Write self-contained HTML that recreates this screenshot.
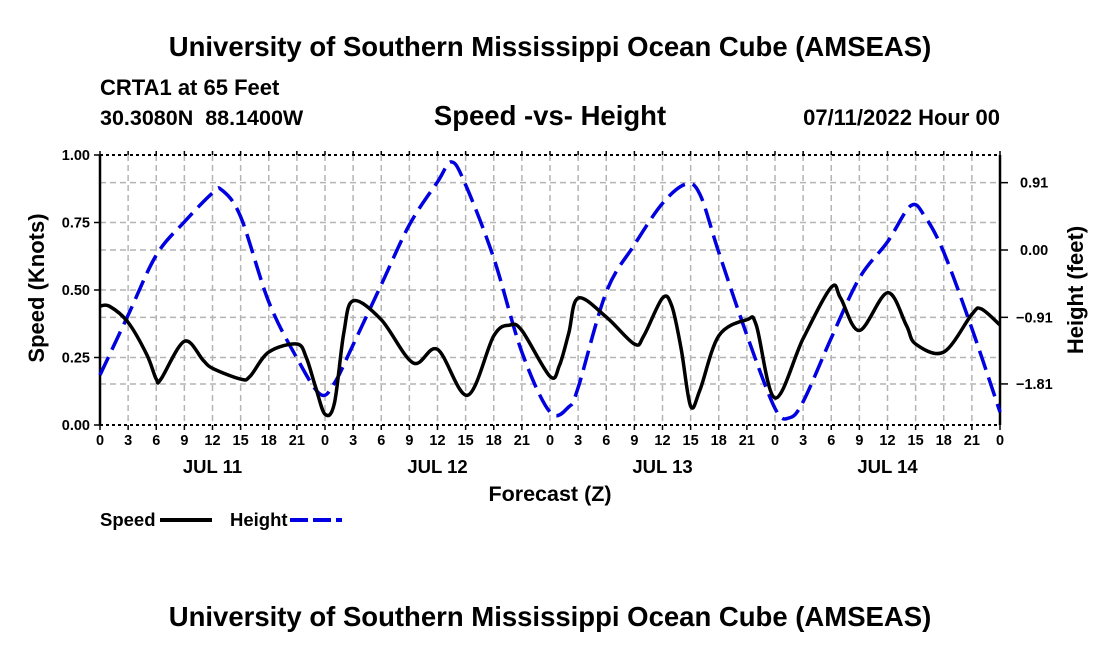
<!DOCTYPE html>
<html><head><meta charset="utf-8"><style>
body{margin:0;background:#fff;font-family:"Liberation Sans",sans-serif}
svg text{font-family:"Liberation Sans",sans-serif;font-weight:bold}
</style></head><body>
<svg id="chart" width="1100" height="650" xmlns="http://www.w3.org/2000/svg">
<rect width="1100" height="650" fill="#fff"/>
<text x="550" y="56" font-size="27.5" text-anchor="middle">University of Southern Mississippi Ocean Cube (AMSEAS)</text>
<text x="100" y="95" font-size="22">CRTA1 at 65 Feet</text>
<text x="100" y="125" font-size="21.5" xml:space="preserve">30.3080N  88.1400W</text>
<text x="550" y="125" font-size="27.5" text-anchor="middle">Speed -vs- Height</text>
<text x="1000" y="125" font-size="22" text-anchor="end">07/11/2022 Hour 00</text>
<g id="grid"></g><g id="axes"></g><g id="series"></g>
<text x="550" y="501" font-size="21.5" text-anchor="middle">Forecast (Z)</text>
<text transform="translate(44,288) rotate(-90)" font-size="22" text-anchor="middle">Speed (Knots)</text>
<text transform="translate(1083,290) rotate(-90)" font-size="22" text-anchor="middle">Height (feet)</text>
<g>
<text x="100" y="526" font-size="18.5">Speed</text>
<line x1="160" y1="520" x2="212" y2="520" stroke="#000" stroke-width="4"/>
<text x="230" y="526" font-size="18.5">Height</text>
<line x1="290" y1="520" x2="342" y2="520" stroke="#0000e0" stroke-width="4" stroke-dasharray="18 5"/>
</g>
<text x="550" y="626" font-size="27.5" text-anchor="middle">University of Southern Mississippi Ocean Cube (AMSEAS)</text>
</svg>
<script>
const speedHours=[0,1,3,5,6,6.5,9,11,12,15,16,18,21,22,23,24,25,26,27,30,33.4,36,39.2,42,43.7,45,48,49,50,51,54,57,58,60,61,62,63,64,66,69,70,72,75,78,79,81,84,86,87,90,93,94,96];
const speedValues=[0.44,0.44,0.38,0.26,0.17,0.17,0.31,0.24,0.21,0.17,0.18,0.27,0.30,0.25,0.14,0.04,0.08,0.34,0.46,0.39,0.23,0.28,0.11,0.33,0.37,0.35,0.18,0.22,0.34,0.47,0.40,0.30,0.33,0.47,0.44,0.28,0.07,0.13,0.33,0.39,0.37,0.10,0.32,0.51,0.47,0.35,0.49,0.37,0.30,0.27,0.41,0.43,0.37];
const heightHours=[0,3,6,9,12,13,15,18,21,23.5,25,27,30,33,36,37.5,39,42,45,48,50,51,54,57,60,62.5,64,66,69,72,73.5,75,78,81,84,86.5,88,90,93,96];
const heightValues=[-1.69,-0.88,-0.07,0.38,0.77,0.81,0.45,-0.70,-1.46,-1.95,-1.80,-1.28,-0.47,0.34,0.92,1.19,0.88,-0.11,-1.38,-2.19,-2.12,-1.86,-0.57,0.07,0.63,0.89,0.75,-0.03,-1.15,-2.14,-2.27,-2.05,-1.19,-0.38,0.11,0.60,0.45,-0.03,-1.06,-2.19];
const speedTicks=[0,0.25,0.5,0.75,1.0];
const heightTicks=[0.91,0.00,-0.91,-1.81];
const hourTicks=[0,3,6,9,12,15,18,21,24,27,30,33,36,39,42,45,48,51,54,57,60,63,66,69,72,75,78,81,84,87,90,93,96];
const dayLabels=["JUL 11","JUL 12","JUL 13","JUL 14"];
const X0=100,X1=1000,Y0=425,Y1=155;
const xs=h=>X0+h*(X1-X0)/96;
const ys=v=>Y0-v*(Y0-Y1);
const yh=v=>250-v*74;
const NS="http://www.w3.org/2000/svg";
function mk(t,a,p){const e=document.createElementNS(NS,t);for(const k in a)e.setAttribute(k,a[k]);p.appendChild(e);return e;}
const grid=document.getElementById('grid'),axes=document.getElementById('axes'),ser=document.getElementById('series');
hourTicks.forEach(h=>{if(h>0&&h<96){const l=mk('line',{x1:xs(h),x2:xs(h),y1:Y1,y2:Y0,stroke:'#b4b4b4','stroke-width':1.5,'stroke-dasharray':'6 4'},grid);

}});
const hy=speedTicks.map(ys).concat(heightTicks.map(yh));
hy.forEach(y=>{if(y>Y1+1&&y<Y0-1){const l=mk('line',{x1:X0,x2:X1,y1:y,y2:y,stroke:'#b4b4b4','stroke-width':1.5,'stroke-dasharray':'6 4'},grid);

}});
[[X0,Y1,X1,Y1,'top-axis'],[X0,Y0,X1,Y0,'bottom-axis']].forEach(a=>{const l=mk('line',{x1:a[0],y1:a[1],x2:a[2],y2:a[3],stroke:'#000','stroke-width':2,'stroke-dasharray':'3 3'},axes);

});
const la=mk('line',{x1:X0,y1:Y1,x2:X0,y2:Y0,stroke:'#000','stroke-width':2.5},axes);


const ra=mk('line',{x1:X1,y1:Y1,x2:X1,y2:Y0,stroke:'#000','stroke-width':2.5},axes);


hourTicks.forEach(h=>{mk('line',{x1:xs(h),x2:xs(h),y1:Y0,y2:Y0+5,stroke:'#000','stroke-width':1.5},axes);
mk('line',{x1:xs(h),x2:xs(h),y1:Y1,y2:Y1-4,stroke:'#000','stroke-width':1.5},axes);
const t=mk('text',{x:xs(h),y:Y0+20,'font-size':14.5,'text-anchor':'middle'},axes);t.textContent=(h%24);

});
dayLabels.forEach((d,i)=>{const t=mk('text',{x:xs(i*24+12),y:Y0+48,'font-size':18.5,'text-anchor':'middle'},axes);t.textContent=d;

});
speedTicks.forEach(v=>{mk('line',{x1:X0-6,x2:X0,y1:ys(v),y2:ys(v),stroke:'#000','stroke-width':1.5},axes);
const t=mk('text',{x:X0-10,y:ys(v)+5,'font-size':14.5,'text-anchor':'end'},axes);t.textContent=v.toFixed(2);

});
heightTicks.forEach(v=>{mk('line',{x1:X1,x2:X1+8,y1:yh(v),y2:yh(v),stroke:'#000','stroke-width':1.5},axes);
const t=mk('text',{x:v<0?X1+16:X1+20,y:yh(v)+5,'font-size':14.5},axes);t.textContent=(v<0?'\u2212':'')+Math.abs(v).toFixed(2);

});
function path(hs,vs,fy){const p=hs.map((h,i)=>[xs(h),fy(vs[i])]);let d='M'+p[0][0]+','+p[0][1];
for(let i=0;i<p.length-1;i++){const a=p[Math.max(0,i-1)],b=p[i],c=p[i+1],e=p[Math.min(p.length-1,i+2)];
d+=` C${b[0]+(c[0]-a[0])/6},${b[1]+(c[1]-a[1])/6} ${c[0]-(e[0]-b[0])/6},${c[1]-(e[1]-b[1])/6} ${c[0]},${c[1]}`;}return d;}
const hp=mk('path',{d:path(heightHours,heightValues,yh),fill:'none',stroke:'#0000e0','stroke-width':3.5,'stroke-dasharray':'20 8'},ser);


const sp=mk('path',{d:path(speedHours,speedValues,ys),fill:'none',stroke:'#000','stroke-width':3.5,'stroke-linejoin':'round'},ser);


</script>
</body></html>
